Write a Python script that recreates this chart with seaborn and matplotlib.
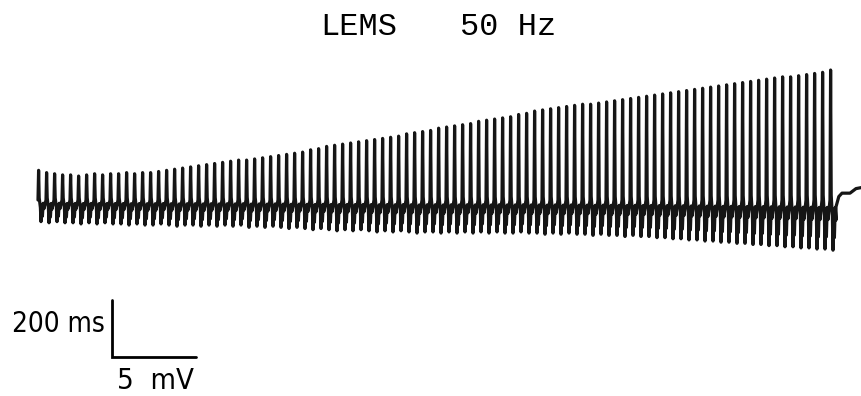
import numpy as np
import pandas as pd
import matplotlib
matplotlib.use('Agg')
import matplotlib.pyplot as plt
import seaborn as sns

##################################################################
# DATA (mV per response, 50 Hz train)
##################################################################

# positive peak of each compound muscle action potential (mV)
top_mv = [2.6, 2.4, 2.3, 2.2, 2.2, 2.1, 2.2, 2.3, 2.2, 2.3,
          2.3, 2.4, 2.3, 2.4, 2.4, 2.5, 2.6, 2.7, 2.8, 2.9,
          3.0, 3.1, 3.2, 3.3, 3.4, 3.5, 3.5, 3.6, 3.7, 3.8,
          3.9, 4.0, 4.1, 4.2, 4.4, 4.5, 4.7, 4.8, 4.9, 5.0,
          5.1, 5.2, 5.3, 5.4, 5.5, 5.6, 5.8, 5.9, 6.0, 6.1,
          6.3, 6.4, 6.5, 6.6, 6.7, 6.9, 7.0, 7.1, 7.2, 7.3,
          7.5, 7.6, 7.8, 7.9, 8.0, 8.1, 8.2, 8.3, 8.4, 8.4,
          8.5, 8.6, 8.7, 8.8, 8.9, 9.0, 9.1, 9.2, 9.3, 9.4,
          9.5, 9.6, 9.7, 9.8, 9.9, 10.0, 10.1, 10.2, 10.3, 10.4,
          10.5, 10.6, 10.7, 10.8, 10.8, 10.9, 11.0, 11.1, 11.2, 11.4]

# negative peak of each response (mV, magnitude)
bottom_mv = [1.9, 2.0, 1.9, 2.0, 2.0, 2.1, 2.0, 2.1, 2.0, 2.1,
             2.1, 2.2, 2.1, 2.2, 2.2, 2.1, 2.2, 2.3, 2.2, 2.2,
             2.3, 2.2, 2.3, 2.2, 2.3, 2.2, 2.4, 2.3, 2.4, 2.3,
             2.4, 2.5, 2.4, 2.5, 2.6, 2.5, 2.6, 2.7, 2.6, 2.7,
             2.6, 2.7, 2.8, 2.7, 2.8, 2.7, 2.8, 2.9, 2.8, 2.8,
             2.9, 2.8, 2.9, 2.8, 2.9, 2.8, 2.9, 2.8, 2.9, 2.9,
             2.8, 2.9, 2.9, 3.0, 2.9, 3.0, 2.9, 3.0, 3.0, 3.1,
             3.0, 3.1, 3.1, 3.2, 3.1, 3.2, 3.2, 3.3, 3.3, 3.4,
             3.4, 3.5, 3.5, 3.6, 3.6, 3.7, 3.7, 3.8, 3.8, 3.9,
             3.9, 4.0, 4.0, 4.1, 4.1, 4.2, 4.2, 4.3, 4.3, 4.4]

stim_interval_ms = 20  # 50 Hz

# shape of one response: time offsets (ms) and what fraction of top / bottom
shape_t = [0, 1.5, 3.0, 6.0, 7.5, 9.5, 11.0, 13.0, 15.0]
shape_top = [0, 1.0, 0, 0, 0, 0, 0, 0, 0]
shape_bot = [0, 0, 0.1, -0.35, -1.0, -0.3, -0.75, -0.15, -0.4]

# flat part after the train stops
tail_t = [1995, 2002, 2010, 2030, 2045, 2060]
tail_mv = [-0.6, 0.3, 0.6, 0.6, 1.0, 1.1]

##################################################################
# BUILD THE TRACE
##################################################################

times = []
volts = []
for i, (a, b) in enumerate(zip(top_mv, bottom_mv)):
    t0 = i * stim_interval_ms
    for dt, ft, fb in zip(shape_t, shape_top, shape_bot):
        times.append(t0 + dt)
        volts.append(ft * a + fb * b)
times += tail_t
volts += tail_mv

trace = pd.DataFrame({'time': times, 'mv': volts})

##################################################################
# PLOT
##################################################################

sns.set_style('white')
fig = plt.figure(figsize=(8.62, 3.96), dpi=100)
ax = fig.add_axes([0, 0, 1, 1])

sns.lineplot(data=trace, x='time', y='mv', sort=False, estimator=None,
             color='#151515', linewidth=2.3, ax=ax)

# pixel layout: x = 38 px at t=0, 2.5 ms per px; baseline at y=200 px, 11.4 px per mV
ax.set_xlim((0 - 38) * 2.5, (862 - 38) * 2.5)
ax.set_ylim((200 - 396) / 11.4, (200 - 0) / 11.4)
ax.axis('off')

# calibration bar
bx0, bx1 = (112 - 38) * 2.5, (196 - 38) * 2.5
by0, by1 = (200 - 357) / 11.4, (200 - 300) / 11.4
ax.plot([bx0, bx0, bx1], [by1, by0, by0], color='black', linewidth=2.0,
        solid_joinstyle='miter')

mono = ['Liberation Mono', 'DejaVu Sans Mono']
fig.text(320 / 862, 1 - 27 / 396, 'LEMS', family=mono, fontsize=23,
         color='black', ha='left', va='center')
fig.text(460 / 862, 1 - 27 / 396, '50 Hz', family=mono, fontsize=23,
         color='black', ha='left', va='center')
fig.text(12 / 862, 1 - 324 / 396, '200 ms', family='DejaVu Sans',
         fontstretch='condensed', fontsize=20, color='black',
         ha='left', va='center')
fig.text(117 / 862, 1 - 381 / 396, '5  mV', family='DejaVu Sans',
         fontstretch='condensed', fontsize=21, color='black',
         ha='left', va='center')

plt.savefig('out.png', dpi=100)
